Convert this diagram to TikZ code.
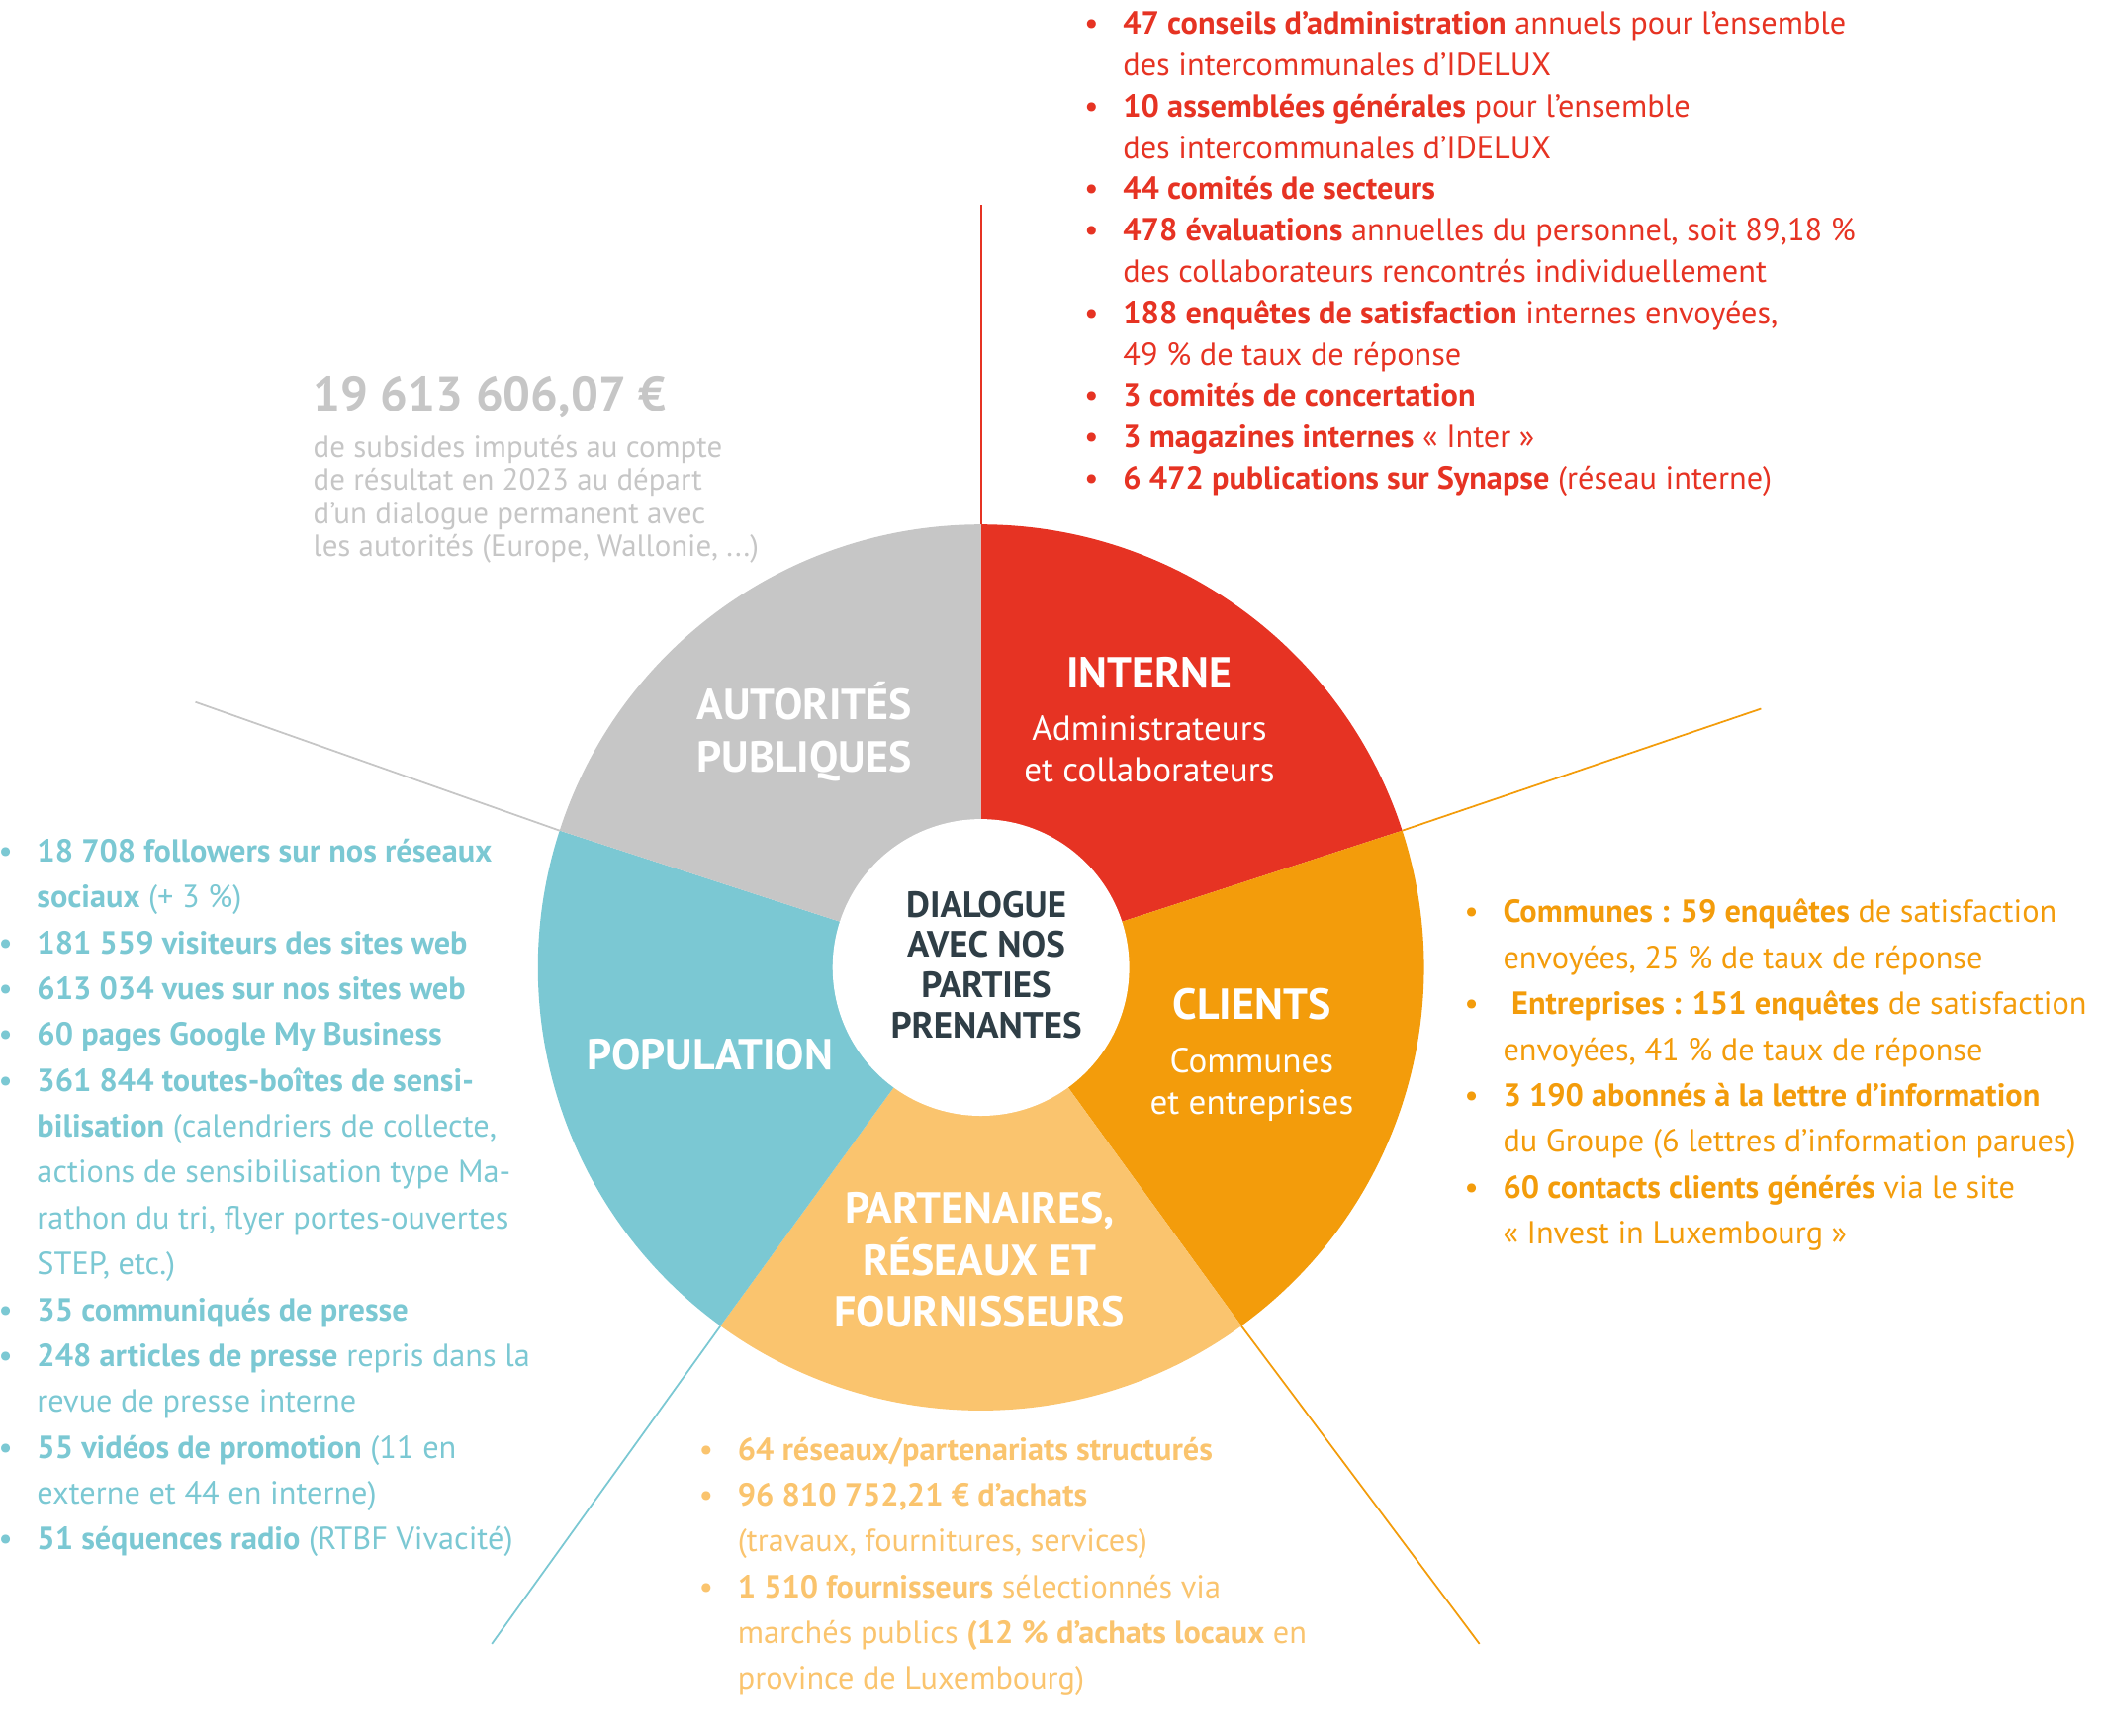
\documentclass[tikz,border=0pt]{standalone}
\usepackage{fontspec}
\setmainfont{PT Sans}
\usetikzlibrary{positioning}
\definecolor{rouge}{HTML}{E63323}
\definecolor{orange}{HTML}{F39C0B}
\definecolor{sable}{HTML}{FAC46E}
\definecolor{turq}{HTML}{7BC8D3}
\definecolor{gris}{HTML}{C6C6C6}
\definecolor{ardoise}{HTML}{2F3E46}
\newcommand{\itm}{\llap{\textbullet\hspace{7pt}}}
\begin{document}
\begin{tikzpicture}[x=0.013622cm, y=-0.013622cm]
    \tikzset{liste/.style={anchor=north west, align=left, inner sep=0pt, font=\fontsize{9.2}{13.2}\selectfont},
             titre/.style={text=white, font=\fontsize{12.5}{15}\selectfont\bfseries, align=center},
             soustitre/.style={text=white, font=\fontsize{10}{12}\selectfont, align=center},
             rayon/.style={line width=0.5pt}}
    \useasboundingbox (0,0) rectangle (1560,1288);
    % secteurs
    \begin{scope}[shift={(728,718)}]
    \coordinate (c) at (0,0);
    \foreach \a/\b/\col in {18/90/rouge, -54/18/orange, -126/-54/sable, 162/234/turq, 90/162/gris}
    \fill[\col] (0,0) -- (\a:4.48cm) arc (\a:\b:4.48cm) -- cycle;
    \foreach \a in {90,18,-54,-126,162}
    \coordinate (b\a) at (\a:4.48cm);
    \fill[white] (0,0) circle (1.5cm);
    \end{scope}
    % rayons
    \coordinate (e90) at (728,152);
    \coordinate (e18) at (1307,526);
    \coordinate (e-54) at (1098,1220);
    \coordinate (e-126) at (365,1220);
    \coordinate (e162) at (145,521);
    \draw[rayon, rouge] (b90) -- (e90);
    \draw[rayon, orange] (b18) -- (e18);
    \draw[rayon, orange] (b-54) -- (e-54);
    \draw[rayon, turq] (b-126) -- (e-126);
    \draw[rayon, gris] (b162) -- (e162);
    % libelles
    \node[text=ardoise, font=\fontsize{10.5}{11.6}\selectfont\bfseries, align=center] (centre) at (732,716) {DIALOGUE\\AVEC NOS\\PARTIES\\PRENANTES};
    \node[titre] (interne) at (853,499) {INTERNE};
    \node[soustitre, below=1pt of interne] (interne-s) {Administrateurs\\et collaborateurs};
    \node[titre] (autorites) at (597,543) {AUTORITÉS\\PUBLIQUES};
    \node[titre] (clients) at (929,745) {CLIENTS};
    \node[soustitre, below=1pt of clients] (clients-s) {Communes\\et entreprises};
    \node[titre] (population) at (527,783) {POPULATION};
    \node[titre] (partenaires) at (727,935) {PARTENAIRES,\\RÉSEAUX ET\\FOURNISSEURS};
    % listes
    \node[liste, text=rouge, font=\fontsize{9.2}{11.9}\selectfont] (l-interne) at (833,8) {%
      \itm\textbf{47 conseils d’administration} annuels pour l’ensemble\\
      des intercommunales d’IDELUX\\
      \itm\textbf{10 assemblées générales} pour l’ensemble\\
      des intercommunales d’IDELUX\\
      \itm\textbf{44 comités de secteurs}\\
      \itm\textbf{478 évaluations} annuelles du personnel, soit 89,18 \%\\
      des collaborateurs rencontrés individuellement\\
      \itm\textbf{188 enquêtes de satisfaction} internes envoyées,\\
      49 \% de taux de réponse\\
      \itm\textbf{3 comités de concertation}\\
      \itm\textbf{3 magazines internes} « Inter »\\
      \itm\textbf{6 472 publications sur Synapse} (réseau interne)};
    \node[anchor=west, text=gris, inner sep=0pt, font=\fontsize{14}{16}\selectfont\bfseries] (montant) at (232,295) {19 613 606,07 €};
    \node[liste, text=gris, font=\fontsize{8.8}{9.4}\selectfont] (l-autorites) at (232,323) {%
      de subsides imputés au compte\\
      de résultat en 2023 au départ\\
      d’un dialogue permanent avec\\
      les autorités (Europe, Wallonie, ...)};
    \node[liste, text=turq] (l-population) at (27,622) {%
      \itm\textbf{18 708 followers sur nos réseaux}\\
      \textbf{sociaux} (+ 3 \%)\\
      \itm\textbf{181 559 visiteurs des sites web}\\
      \itm\textbf{613 034 vues sur nos sites web}\\
      \itm\textbf{60 pages Google My Business}\\
      \itm\textbf{361 844 toutes-boîtes de sensi-}\\
      \textbf{bilisation} (calendriers de collecte,\\
      actions de sensibilisation type Ma-\\
      rathon du tri, flyer portes-ouvertes\\
      STEP, etc.)\\
      \itm\textbf{35 communiqués de presse}\\
      \itm\textbf{248 articles de presse} repris dans la\\
      revue de presse interne\\
      \itm\textbf{55 vidéos de promotion} (11 en\\
      externe et 44 en interne)\\
      \itm\textbf{51 séquences radio} (RTBF Vivacité)};
    \node[liste, text=orange] (l-clients) at (1115,667) {%
      \itm\textbf{Communes : 59 enquêtes} de satisfaction\\
      envoyées, 25 \% de taux de réponse\\
      \itm\ \textbf{Entreprises : 151 enquêtes} de satisfaction\\
      envoyées, 41 \% de taux de réponse\\
      \itm\textbf{3 190 abonnés à la lettre d’information}\\
      du Groupe (6 lettres d’information parues)\\
      \itm\textbf{60 contacts clients générés} via le site\\
      « Invest in Luxembourg »};
    \node[liste, text=sable] (l-partenaires) at (547,1066) {%
      \itm\textbf{64 réseaux/partenariats structurés}\\
      \itm\textbf{96 810 752,21 € d’achats}\\
      (travaux, fournitures, services)\\
      \itm\textbf{1 510 fournisseurs} sélectionnés via\\
      marchés publics \textbf{(12 \% d’achats locaux} en\\
      province de Luxembourg)};
\end{tikzpicture}
\end{document}
